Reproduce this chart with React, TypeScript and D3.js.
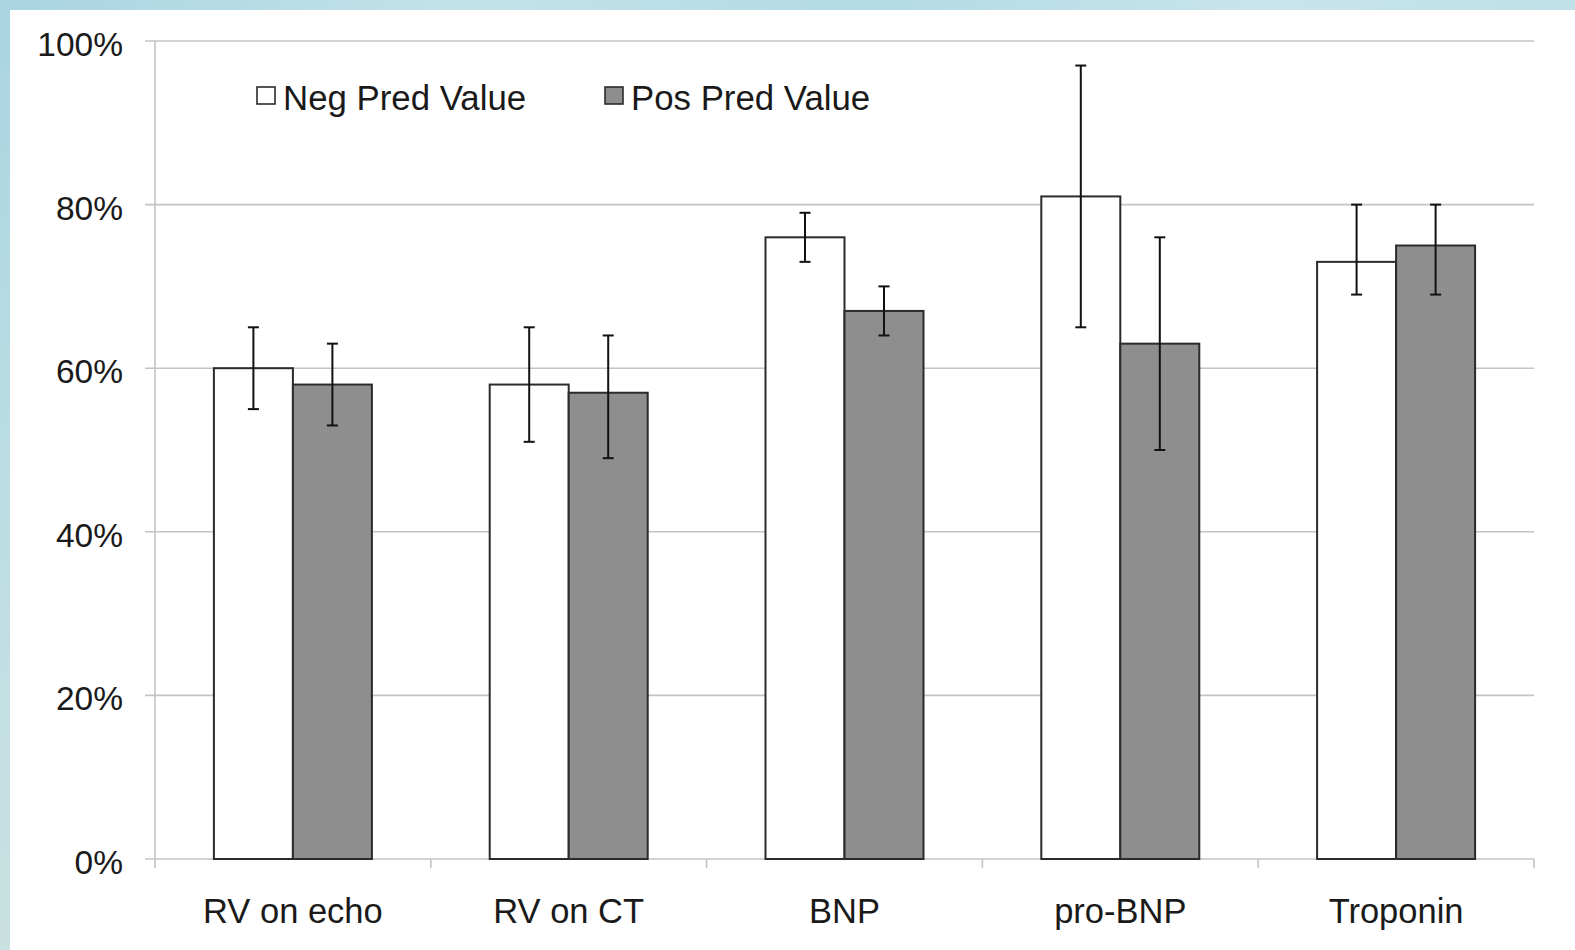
import React from "react";
import * as d3 from "d3";

const categories = ["RV on echo", "RV on CT", "BNP", "pro-BNP", "Troponin"];
const seriesNames = ["Neg Pred Value", "Pos Pred Value"];
const negValues = [60, 58, 76, 81, 73];
const posValues = [58, 57, 67, 63, 75];
const negLow = [55, 51, 73, 65, 69];
const negHigh = [65, 65, 79, 97, 80];
const posLow = [53, 49, 64, 50, 69];
const posHigh = [63, 64, 70, 76, 80];
const yTicks = [0, 20, 40, 60, 80, 100];

const W = 1575;
const H = 950;
const FONT = "'Liberation Sans', Arial, Helvetica, sans-serif";

export default function App() {
  const left = 155;
  const right = 1534;
  const top = 41;
  const bottom = 859;

  const x = d3.scaleBand<string>().domain(categories).range([left, right]).paddingInner(0).paddingOuter(0);
  const y = d3.scaleLinear().domain([0, 100]).range([bottom, top]);
  const barW = 79;

  const series = [
    { name: seriesNames[0], values: negValues, low: negLow, high: negHigh, fill: "#ffffff" },
    { name: seriesNames[1], values: posValues, low: posLow, high: posHigh, fill: "#8e8e8e" },
  ];

  const boundaries = categories.map((c) => x(c) as number).concat([right]);

  return (
    <svg width={W} height={H} style={{ position: "absolute", left: 0, top: 0 }} fontFamily={FONT}>
      <defs>
        <linearGradient id="bgTop" x1="0" x2="1" y1="0" y2="0">
          <stop offset="0" stopColor="#a9d4e1" />
          <stop offset="0.3" stopColor="#c4e2ea" />
          <stop offset="0.55" stopColor="#b3dae5" />
          <stop offset="0.8" stopColor="#c8e4ec" />
          <stop offset="1" stopColor="#bfe0e8" />
        </linearGradient>
        <linearGradient id="bgLeft" x1="0" x2="0" y1="0" y2="1">
          <stop offset="0" stopColor="#a9d4e1" />
          <stop offset="0.5" stopColor="#bcdde4" />
          <stop offset="1" stopColor="#c9e1e0" />
        </linearGradient>
      </defs>
      <rect x={0} y={0} width={W} height={H} fill="#ffffff" />
      <rect x={0} y={0} width={W} height={10} fill="url(#bgTop)" />
      <rect x={0} y={0} width={10} height={H} fill="url(#bgLeft)" />

      {/* gridlines */}
      {yTicks.map((t) => (
        <g key={t}>
          <line x1={145} x2={right} y1={y(t)} y2={y(t)} stroke="#c4c4c4" strokeWidth={1.6} />
          <text x={123} y={y(t) + 15} textAnchor="end" fontSize={33.5} fill="#1a1a1a">
            {t}%
          </text>
        </g>
      ))}
      {/* y axis */}
      <line x1={left} x2={left} y1={top} y2={bottom + 9} stroke="#c4c4c4" strokeWidth={1.6} />
      {/* x ticks */}
      {boundaries.slice(1).map((b, i) => (
        <line key={i} x1={b} x2={b} y1={bottom} y2={bottom + 9} stroke="#c4c4c4" strokeWidth={1.6} />
      ))}

      {/* bars */}
      {categories.map((c, i) => {
        const cx = (x(c) as number) + x.bandwidth() / 2;
        return (
          <g key={c}>
            {series.map((s, si) => {
              const bx = cx - barW + si * barW;
              return (
                <rect
                  key={s.name}
                  x={bx}
                  y={y(s.values[i])}
                  width={barW}
                  height={y(0) - y(s.values[i])}
                  fill={s.fill}
                  stroke="#2b2b2b"
                  strokeWidth={2}
                />
              );
            })}
            {series.map((s, si) => {
              const bx = cx - barW + si * barW;
              const mx = bx + barW / 2;
              return (
                <g key={s.name + "err"} stroke="#111" strokeWidth={2}>
                  <line x1={mx} x2={mx} y1={y(s.low[i])} y2={y(s.high[i])} />
                  <line x1={mx - 5.5} x2={mx + 5.5} y1={y(s.low[i])} y2={y(s.low[i])} />
                  <line x1={mx - 5.5} x2={mx + 5.5} y1={y(s.high[i])} y2={y(s.high[i])} />
                </g>
              );
            })}
            <text x={cx} y={923} textAnchor="middle" fontSize={34.5} fill="#1a1a1a">
              {c}
            </text>
          </g>
        );
      })}

      {/* legend */}
      {series.map((s, si) => {
        const lx = si === 0 ? 257 : 605;
        return (
          <g key={s.name}>
            <rect x={lx} y={87} width={18} height={17} fill={s.fill} stroke="#2b2b2b" strokeWidth={1.6} />
            <text x={lx + 26} y={110} fontSize={34.8} fill="#1a1a1a">
              {s.name}
            </text>
          </g>
        );
      })}
    </svg>
  );
}
